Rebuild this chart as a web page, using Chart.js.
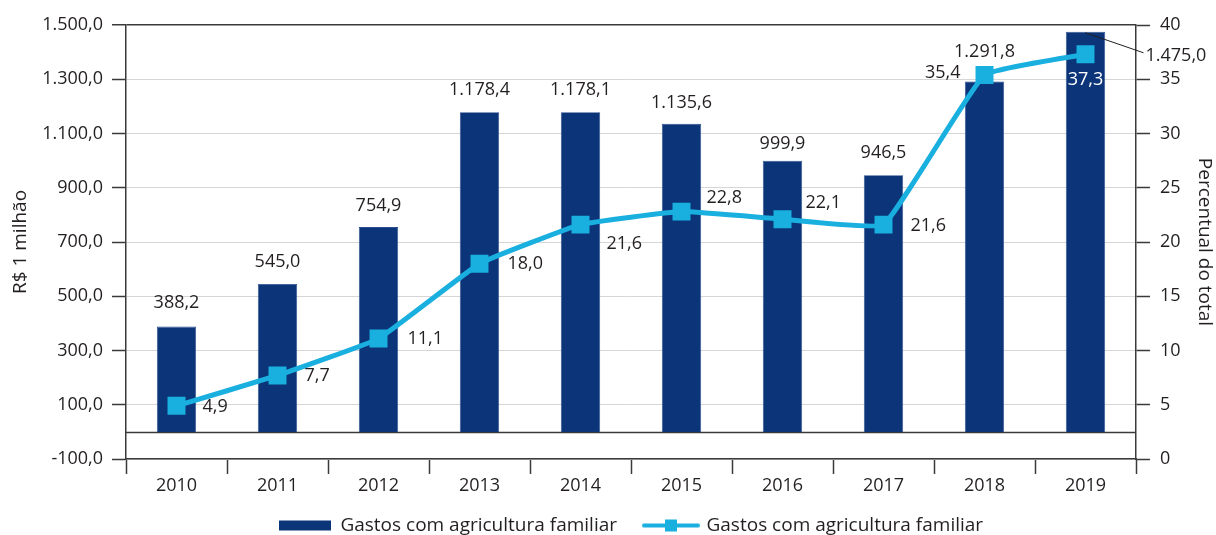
<!DOCTYPE html>
<html>
<head>
<meta charset="utf-8">
<script src="https://cdn.jsdelivr.net/npm/chart.js@4/dist/chart.umd.min.js"></script>
<style>
  html, body { margin: 0; padding: 0; background: #ffffff; }
  #wrap { width: 1216px; height: 535px; position: relative; }
</style>
</head>
<body>
<div id="wrap"><canvas id="c"></canvas></div>
<script>
// ---- data ----
const anos = ['2010', '2011', '2012', '2013', '2014', '2015', '2016', '2017', '2018', '2019'];
const gastosMilhao = [388.2, 545.0, 754.9, 1178.4, 1178.1, 1135.6, 999.9, 946.5, 1291.8, 1475.0];
const percentualTotal = [4.9, 7.7, 11.1, 18.0, 21.6, 22.8, 22.1, 21.6, 35.4, 37.3];
const nomeSerieBarras = 'Gastos com agricultura familiar';
const nomeSerieLinha = 'Gastos com agricultura familiar';
const tituloEixoEsq = 'R$ 1 milhão';
const tituloEixoDir = 'Percentual do total';

// ---- styles ----
const BAR_COLOR = '#0b3479';
const LINE_COLOR = '#19afdf';
const TEXT_COLOR = '#231f20';
const AXIS_COLOR = '#3a3a3a';
const GRID_COLOR = '#d6d6d6';
const FONT_FAMILY = '"Open Sans", "Noto Sans", sans-serif';
const NUM_SIZE = 18;
const TEXT_SIZE = 19;

function fmtBR(v, dec) {
  const s = Math.abs(v).toFixed(dec);
  const parts = s.split('.');
  const ip = parts[0].replace(/\B(?=(\d{3})+(?!\d))/g, '.');
  return (v < 0 ? '-' : '') + ip + (parts[1] ? ',' + parts[1] : '');
}

// label placement (style only)
const barLabelPlace = [
  {dy: -24}, {dy: -22}, {dy: -21}, {dy: -22}, {dy: -22},
  {dy: -21}, {dy: -17}, {dy: -22}, {dy: -30}, {callout: true}
];
const lineLabelPlace = [
  {align: 'left', dx: 26, dy: 1},
  {align: 'left', dx: 27, dy: 0},
  {align: 'left', dx: 29, dy: 0},
  {align: 'left', dx: 28, dy: 0},
  {align: 'left', dx: 26, dy: 19},
  {align: 'left', dx: 25, dy: -14},
  {align: 'left', dx: 23, dy: -16},
  {align: 'left', dx: 27, dy: 1},
  {align: 'right', dx: -24, dy: -2},
  {align: 'center', dx: 0, dy: 26, color: '#ffffff'}
];

const valueLabels = {
  id: 'valueLabels',
  afterDatasetsDraw(chart) {
    const ctx = chart.ctx;
    ctx.save();
    ctx.font = NUM_SIZE + 'px ' + FONT_FAMILY;
    ctx.textBaseline = 'middle';
    const barMeta = chart.getDatasetMeta(1);
    barMeta.data.forEach((el, i) => {
      const p = barLabelPlace[i] || {dy: -22};
      const txt = fmtBR(gastosMilhao[i], 1);
      ctx.fillStyle = TEXT_COLOR;
      if (p.callout) {
        ctx.strokeStyle = '#231f20';
        ctx.lineWidth = 1;
        ctx.beginPath();
        ctx.moveTo(el.x, el.y + 1);
        ctx.lineTo(el.x + 58, el.y + 21);
        ctx.stroke();
        ctx.textAlign = 'left';
        ctx.fillText(txt, el.x + 60, el.y + 24);
      } else {
        ctx.textAlign = 'center';
        ctx.fillText(txt, el.x, el.y + p.dy);
      }
    });
    const lineMeta = chart.getDatasetMeta(0);
    lineMeta.data.forEach((el, i) => {
      const p = lineLabelPlace[i];
      ctx.fillStyle = p.color || TEXT_COLOR;
      ctx.textAlign = p.align;
      ctx.fillText(fmtBR(percentualTotal[i], 1), el.x + p.dx, el.y + p.dy);
    });
    ctx.restore();
  }
};

const zeroLine = {
  id: 'zeroLine',
  beforeDatasetsDraw(chart) {
    const {ctx, chartArea, scales} = chart;
    const y = Math.round(scales.y.getPixelForValue(0)) + 0.5;
    ctx.save();
    ctx.strokeStyle = AXIS_COLOR;
    ctx.lineWidth = 1.5;
    ctx.beginPath();
    ctx.moveTo(chartArea.left, y);
    ctx.lineTo(chartArea.right, y);
    ctx.stroke();
    ctx.restore();
  }
};

// legend symbols
function makeBarSymbol() {
  const c = document.createElement('canvas');
  c.width = 52; c.height = 12;
  const g = c.getContext('2d');
  g.fillStyle = BAR_COLOR;
  g.fillRect(0, 1, 52, 10);
  return c;
}
function makeLineSymbol() {
  const c = document.createElement('canvas');
  c.width = 58; c.height = 14;
  const g = c.getContext('2d');
  g.strokeStyle = LINE_COLOR;
  g.lineWidth = 4;
  g.lineCap = 'round';
  g.beginPath();
  g.moveTo(2, 7); g.lineTo(56, 7);
  g.stroke();
  g.fillStyle = LINE_COLOR;
  g.fillRect(23, 1, 12, 12);
  return c;
}
const barSym = makeBarSymbol();
const lineSym = makeLineSymbol();

const numFont = {family: FONT_FAMILY, size: NUM_SIZE};
const textFont = {family: FONT_FAMILY, size: TEXT_SIZE};

new Chart(document.getElementById('c'), {
  data: {
    labels: anos,
    datasets: [
      {
        type: 'line',
        label: nomeSerieLinha,
        data: percentualTotal,
        yAxisID: 'y1',
        borderColor: LINE_COLOR,
        backgroundColor: LINE_COLOR,
        borderWidth: 5,
        pointStyle: 'rect',
        pointRadius: 12.7,
        pointHoverRadius: 12.7,
        pointBackgroundColor: LINE_COLOR,
        pointBorderWidth: 0,
        tension: 0.1,
        order: 0
      },
      {
        type: 'bar',
        label: nomeSerieBarras,
        data: gastosMilhao,
        yAxisID: 'y',
        backgroundColor: BAR_COLOR,
        borderColor: '#2a4f8f',
        borderWidth: 0.8,
        categoryPercentage: 1,
        barPercentage: 0.39,
        order: 1
      }
    ]
  },
  options: {
    responsive: true,
    maintainAspectRatio: false,
    animation: false,
    events: [],
    layout: { padding: { top: 25, left: 0, right: 0, bottom: -10 } },
    plugins: {
      tooltip: { enabled: false },
      legend: {
        position: 'bottom',
        fullSize: false,
        labels: {
          usePointStyle: true,
          pointStyleWidth: 52,
          padding: 28,
          color: TEXT_COLOR,
          font: textFont,
          generateLabels: () => [
            { text: nomeSerieBarras, pointStyle: barSym, fillStyle: BAR_COLOR, strokeStyle: BAR_COLOR, lineWidth: 0, hidden: false, datasetIndex: 1, fontColor: TEXT_COLOR },
            { text: nomeSerieLinha, pointStyle: lineSym, fillStyle: LINE_COLOR, strokeStyle: LINE_COLOR, lineWidth: 0, hidden: false, datasetIndex: 0, fontColor: TEXT_COLOR }
          ]
        }
      }
    },
    scales: {
      x: {
        type: 'category',
        offset: true,
        afterFit: (s) => {
          s.height = 29;
          // let tick labels extend below the (thin) axis box without clipping
          s._computeLabelArea = () => undefined;
        },
        grid: {
          offset: true,
          drawOnChartArea: false,
          drawTicks: true,
          tickLength: 15,
          tickColor: AXIS_COLOR,
          tickWidth: 1.5
        },
        border: { display: true, color: AXIS_COLOR, width: 1.5 },
        ticks: { color: TEXT_COLOR, font: numFont, padding: 1, maxRotation: 0 }
      },
      y: {
        type: 'linear',
        position: 'left',
        min: -100,
        max: 1500,
        afterFit: (s) => { s.width = 126; },
        ticks: {
          stepSize: 200,
          color: TEXT_COLOR,
          font: numFont,
          padding: 9,
          callback: (v) => fmtBR(v, 1)
        },
        grid: {
          color: (c) => (c.tick && c.tick.value === 1500) ? AXIS_COLOR : GRID_COLOR,
          lineWidth: (c) => (c.tick && c.tick.value === 1500) ? 1.5 : 1,
          tickLength: 14,
          tickColor: AXIS_COLOR,
          tickWidth: 1.5
        },
        border: { display: true, color: AXIS_COLOR, width: 1.5 },
        title: {
          display: true,
          text: tituloEixoEsq,
          color: TEXT_COLOR,
          font: textFont,
          padding: { top: 9, bottom: 0 }
        }
      },
      y1: {
        type: 'linear',
        position: 'right',
        min: 0,
        max: 40,
        afterFit: (s) => { s.width = 80; },
        ticks: {
          stepSize: 5,
          color: TEXT_COLOR,
          font: numFont,
          padding: 10,
          callback: (v) => fmtBR(v, 0)
        },
        grid: {
          drawOnChartArea: false,
          tickLength: 14,
          tickColor: AXIS_COLOR,
          tickWidth: 1.5
        },
        border: { display: true, color: AXIS_COLOR, width: 1.5 },
        title: {
          display: true,
          text: tituloEixoDir,
          color: TEXT_COLOR,
          font: textFont,
          padding: { top: 0, bottom: 0 }
        }
      }
    }
  },
  plugins: [zeroLine, valueLabels]
});
</script>
</body>
</html>
